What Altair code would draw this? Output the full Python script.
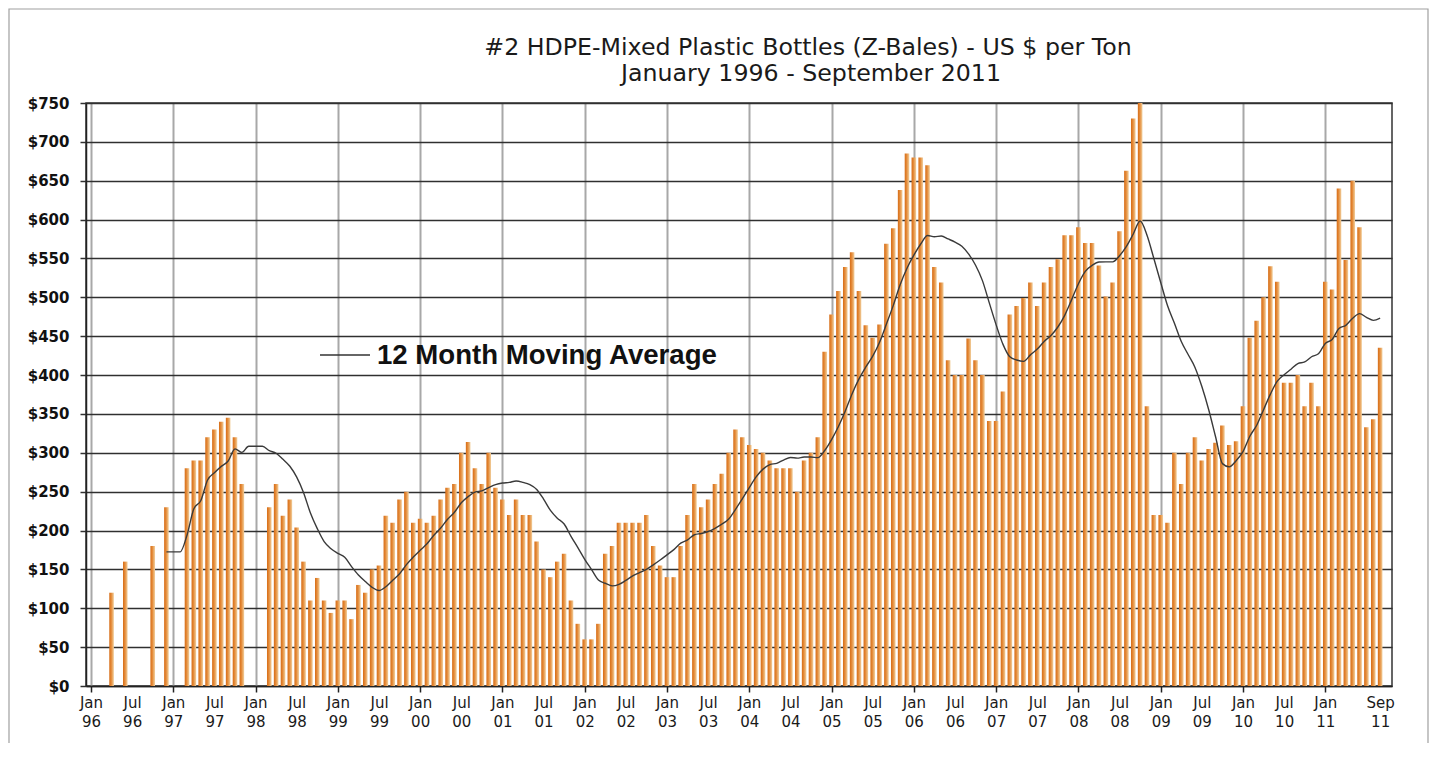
import altair as alt

# Monthly prices, US $ per ton (None = no quote that month)
p1996 = [None, None, None, 120, None, 160, None, None, None, 180, None, 230]
p1997 = [None, None, 280, 290, 290, 320, 330, 340, 345, 320, 260, None]
p1998 = [None, None, 230, 260, 219, 240, 204, 160, 110, 139, 110, 94]
p1999 = [110, 110, 86, 130, 120, 150, 155, 219, 210, 240, 250, 210]
p2000 = [215, 210, 219, 240, 255, 260, 300, 314, 280, 260, 300, 255]
p2001 = [240, 220, 240, 220, 220, 186, 150, 140, 160, 170, 110, 80]
p2002 = [60, 60, 80, 170, 180, 210, 210, 210, 210, 220, 180, 155]
p2003 = [140, 140, 180, 220, 260, 230, 240, 260, 273, 300, 330, 320]
p2004 = [310, 305, 300, 290, 280, 280, 280, 250, 290, 300, 320, 430]
p2005 = [478, 508, 539, 558, 508, 464, 448, 465, 569, 589, 638, 685]
p2006 = [680, 680, 670, 539, 519, 419, 400, 400, 447, 419, 400, 341]
p2007 = [341, 379, 478, 489, 499, 519, 489, 519, 539, 549, 580, 580]
p2008 = [590, 570, 570, 541, 501, 519, 585, 663, 730, 750, 360, 220]
p2009 = [220, 210, 300, 260, 300, 320, 290, 305, 313, 335, 310, 315]
p2010 = [360, 448, 470, 500, 540, 520, 390, 390, 400, 360, 390, 360]
p2011 = [520, 510, 640, 548, 650, 590, 333, 343, 435]

prices = (p1996 + p1997 + p1998 + p1999 + p2000 + p2001 + p2002 + p2003 +
          p2004 + p2005 + p2006 + p2007 + p2008 + p2009 + p2010 + p2011)

# Axis tick labels
tick_index = [0, 6, 12, 18, 24, 30, 36, 42, 48, 54, 60, 66, 72, 78, 84, 90,
              96, 102, 108, 114, 120, 126, 132, 138, 144, 150, 156, 162, 168,
              174, 180, 188]
tick_month = ["Jan", "Jul"] * 15 + ["Jan", "Sep"]
tick_year = ["96", "96", "97", "97", "98", "98", "99", "99", "00", "00", "01",
             "01", "02", "02", "03", "03", "04", "04", "05", "05", "06", "06",
             "07", "07", "08", "08", "09", "09", "10", "10", "11", "11"]
y_ticks = [0, 50, 100, 150, 200, 250, 300, 350, 400, 450, 500, 550, 600, 650,
           700, 750]

title_line1 = "#2 HDPE-Mixed Plastic Bottles (Z-Bales) - US $ per Ton"
title_line2 = "January 1996 - September 2011"
legend_label = "12 Month Moving Average"

records = [{"idx": i, "price": p} for i, p in enumerate(prices)]
data = alt.Data(values=records)

idx_js = "[" + ",".join(str(v) for v in tick_index) + "]"
mon_js = "[" + ",".join("'" + m + "'" for m in tick_month) + "]"
yr_js = "[" + ",".join("'" + y + "'" for y in tick_year) + "]"
label_expr = (f"[{mon_js}[indexof({idx_js}, datum.value)], "
              f"{yr_js}[indexof({idx_js}, datum.value)]]")

x_scale = alt.Scale(domain=[0, 189], nice=False, zero=False)
y_scale = alt.Scale(domain=[0, 750], nice=False)

x_axis = alt.Axis(
    values=tick_index, labelExpr=label_expr, title=None,
    labelFont="DejaVu Sans", labelFontSize=15, labelColor="#1a1a1a",
    labelFlush=False, labelOverlap=False, labelPadding=3, labelLineHeight=19,
    labelBaseline="top",
    grid=True,
    gridColor={"condition": {"test": "datum.value % 12 === 0", "value": "#A8A8A8"},
               "value": "transparent"},
    gridWidth=2,
    ticks=True, tickSize=6,
    tickColor={"condition": {"test": "datum.value % 12 === 0", "value": "#222222"},
               "value": "transparent"},
    tickWidth=1.5,
    domainColor="#222222", domainWidth=1.5,
)
y_axis = alt.Axis(
    values=y_ticks, labelExpr="'$' + datum.value", title=None,
    labelFont="DejaVu Sans", labelFontWeight="bold", labelFontSize=15,
    labelColor="#111111", labelPadding=11, labelOverlap=False,
    grid=True, gridColor="#303030", gridWidth=1.6,
    tickSize=6, tickColor="#303030", tickWidth=1.5,
    domainColor="#222222", domainWidth=1.5,
)

bar_fill = alt.Gradient(
    gradient="linear",
    stops=[alt.GradientStop(offset=0, color="#D66C16"),
           alt.GradientStop(offset=0.45, color="#E58D3C"),
           alt.GradientStop(offset=1, color="#F1D09E")],
    x1=0, x2=1, y1=0, y2=0,
)

base = alt.Chart(data)

bars = base.transform_filter("datum.price != null").mark_bar(
    size=4.6, color=bar_fill
).encode(
    x=alt.X("idx:Q", scale=x_scale, axis=x_axis),
    y=alt.Y("price:Q", scale=y_scale, axis=y_axis),
)

ma = base.transform_window(
    ma="mean(price)", frame=[-11, 0], sort=[alt.SortField("idx")]
).transform_filter("datum.idx >= 11").mark_line(
    color="#3a3a3a", strokeWidth=1.4, interpolate="monotone"
).encode(
    x=alt.X("idx:Q", scale=x_scale, axis=x_axis),
    y=alt.Y("ma:Q", scale=y_scale, axis=y_axis),
)

one = alt.Data(values=[{"k": 1}])
legend_line = alt.Chart(one).mark_rule(color="#333333", strokeWidth=1.4).encode(
    x=alt.value(234), x2=alt.value(284), y=alt.value(252)
)
legend_text = alt.Chart(one).mark_text(
    align="left", baseline="middle", font="Liberation Sans",
    fontWeight="bold", fontSize=27.6, color="#111111"
).encode(x=alt.value(291), y=alt.value(253), text=alt.value(legend_label))

title1 = alt.Chart(one).mark_text(
    align="center", baseline="alphabetic", font="DejaVu Sans",
    fontSize=23.7, color="#1a1a1a"
).encode(x=alt.value(722), y=alt.value(-48), text=alt.value(title_line1))
title2 = alt.Chart(one).mark_text(
    align="center", baseline="alphabetic", font="DejaVu Sans",
    fontSize=23.7, color="#1a1a1a"
).encode(x=alt.value(725), y=alt.value(-22), text=alt.value(title_line2))

border = alt.Chart(one).mark_rect(
    fill="transparent", stroke="#A0A0A0", strokeWidth=1.2
).encode(x=alt.value(-77), x2=alt.value(1342), y=alt.value(-94), y2=alt.value(642))

chart = alt.layer(bars, ma, legend_line, legend_text, title1, title2, border).properties(
    width=1306, height=583,
    padding={"left": 78, "top": 95, "right": 40, "bottom": 57},
    autosize=alt.AutoSizeParams(type="none"),
    background="white",
).configure_view(stroke="#333333", strokeWidth=1.5)

chart.save("out.html", embed_options={"renderer": "svg", "actions": False})
